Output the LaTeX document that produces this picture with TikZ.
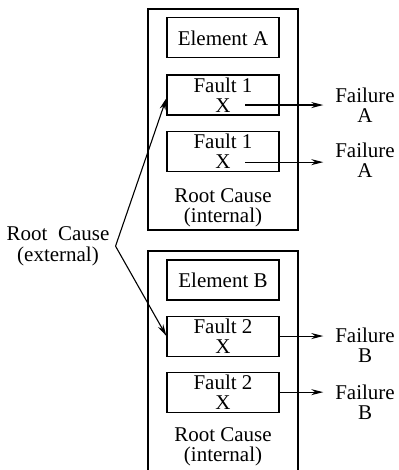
\documentclass[tikz,border=0pt]{standalone}
\usepackage{fontspec}
\setmainfont{Liberation Serif}
\usetikzlibrary{arrows.meta,positioning}

\begin{document}
\begin{tikzpicture}[x=1pt,y=-1pt,font=\fontsize{21}{20.5}\selectfont,>={Stealth[length=12pt,width=6pt]}]
\tikzstyle{unit}=[draw, line width=2.2pt, minimum width=150pt, minimum height=221pt, inner sep=0pt]
\tikzstyle{part}=[draw, line width=1.1pt, minimum width=112pt, minimum height=40pt, inner sep=0pt, align=center]
\tikzstyle{txt}=[inner sep=0pt, align=center]
\tikzstyle{failtxt}=[txt, outer xsep=12pt, anchor=north]
\tikzstyle{link}=[->, line width=1.1pt]

\useasboundingbox (0,0) rectangle (398,470);

 % element A
 \node[unit] (unitA) at (223,119.5) {};
 \node[part, below=9.5pt of unitA.north] (elemA) {Element A};
 \node[part, below=16pt of elemA] (fault1a) {Fault 1\\X};
 \node[part, below=15pt of fault1a] (fault1b) {Fault 1\\X};
 \node[txt, below=16.5pt of fault1b] (rootA) {Root Cause\\(internal)};

 % element B
 \node[unit] (unitB) at (223,361.5) {};
 \node[part, below=9.5pt of unitB.north] (elemB) {Element B};
 \node[part, below=15pt of elemB] (fault2a) {Fault 2\\X};
 \node[part, below=15pt of fault2a] (fault2b) {Fault 2\\X};
 \node[txt, below=14.5pt of fault2b] (rootB) {Root Cause\\(internal)};

 % failures
 \node[failtxt] (failA1) at (365,87.5) {Failure\\A};
 \node[failtxt] (failA2) at (365,142.5) {Failure\\A};
 \node[failtxt] (failB1) at (365,327.5) {Failure\\B};
 \node[failtxt] (failB2) at (365,384.5) {Failure\\B};

 \coordinate (xA1) at ([xshift=22pt,yshift=-10pt]fault1a.center);
 \coordinate (xA2) at ([xshift=22pt,yshift=-11pt]fault1b.center);
 \draw[link] (xA1) -- (xA1 -| failA1.west);
 \draw[link] (xA2) -- (xA2 -| failA2.west);
 \draw[link] (fault2a.east) -- (fault2a.east -| failB1.west);
 \draw[link] (fault2b.east) -- (fault2b.east -| failB2.west);

 % external cause
 \node[txt, anchor=north] (rootX) at (58,226.5) {Root~ Cause\\(external)};
 \coordinate (fork) at ([xshift=6pt]rootX.east);
 \draw[link] (fork) -- ([yshift=-3pt]fault1a.west);
 \draw[link] (fork) -- (fault2a.west);
\end{tikzpicture}
\end{document}
